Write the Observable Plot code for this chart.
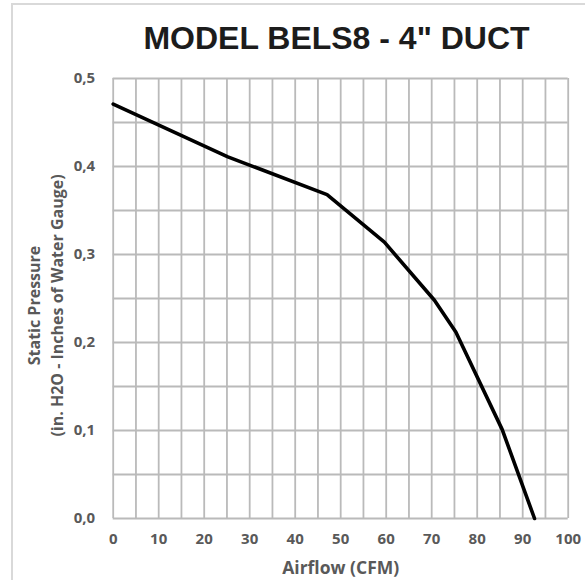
<!DOCTYPE html>
<html>
<head>
<meta charset="utf-8">
<script src="https://cdn.jsdelivr.net/npm/d3@7"></script>
<script src="https://cdn.jsdelivr.net/npm/@observablehq/plot@0.6"></script>
<style>
  html, body { margin: 0; padding: 0; background: #fff; }
  #wrap { position: relative; width: 585px; height: 580px; overflow: hidden; }
  #frame { position: absolute; left: 11px; top: 3px; width: 700px; height: 700px;
           border-left: 2px solid #d9d9d9; border-top: 2px solid #d9d9d9; }
  #title { position: absolute; left: 0; top: 22px; width: 673px; text-align: center;
           font: bold 32px "Liberation Sans", Arial, sans-serif; line-height: 32px; color: #1c1c1c; }
  #chart { position: absolute; left: 0; top: 60px; }
</style>
</head>
<body>
<div id="wrap">
  <div id="frame"></div>
  <div id="title">MODEL BELS8 - 4" DUCT</div>
  <div id="chart"></div>
</div>
<script>
// Data
const airflow  = [0, 25.2, 47, 59.6, 70.6, 75.3, 85.5, 92.6];
const pressure = [0.471, 0.411, 0.368, 0.314, 0.248, 0.212, 0.101, 0.0];

const xTicks = [0, 10, 20, 30, 40, 50, 60, 70, 80, 90, 100];
const yTicks = [0, 0.1, 0.2, 0.3, 0.4, 0.5];
const xGrid = [0, 5, 10, 15, 20, 25, 30, 35, 40, 45, 50, 55, 60, 65, 70, 75, 80, 85, 90, 95, 100];
const yGrid = [0, 0.05, 0.1, 0.15, 0.2, 0.25, 0.3, 0.35, 0.4, 0.45, 0.5];

const xLabel = "Airflow (CFM)";
const yLabel = "Static Pressure\n(in. H2O - Inches of Water Gauge)";

const data = airflow.map((x, i) => ({x, y: pressure[i]}));

const chart = Plot.plot({
  width: 585,
  height: 520,
  marginLeft: 112.7,
  marginRight: 17.3,
  marginTop: 18,
  marginBottom: 62,
  style: {fontFamily: "'Open Sans', sans-serif", color: "#595959", background: "transparent", overflow: "visible"},
  x: {domain: [0, 100]},
  y: {domain: [0, 0.5]},
  marks: [
    Plot.gridX(xGrid, {stroke: "#bababa", strokeOpacity: 1, strokeWidth: 1.8}),
    Plot.gridY(yGrid, {stroke: "#bababa", strokeOpacity: 1, strokeWidth: 1.8}),
    Plot.axisX(xTicks, {tickSize: 0, tickPadding: 15, fontSize: 15, fontWeight: "bold", label: null}),
    Plot.axisY(yTicks, {tickSize: 0, tickPadding: 18, fontSize: 15, fontWeight: "bold", label: null,
      tickFormat: d => d.toFixed(1).replace(".", ",")}),
    Plot.text([xLabel], {frameAnchor: "bottom", text: d => d, dy: 50, fontSize: 17.5, fontWeight: "bold", lineAnchor: "middle"}),
    Plot.text([yLabel], {frameAnchor: "left", text: d => d, dx: -68.7, dy: 7, rotate: -90, textAnchor: "middle",
      fontSize: 16, fontWeight: "bold", lineAnchor: "middle", lineHeight: 1.4}),
    Plot.line(data, {x: "x", y: "y", stroke: "#000", strokeWidth: 3.6, strokeLinejoin: "round"})
  ]
});
document.getElementById("chart").appendChild(chart);
</script>
</body>
</html>
